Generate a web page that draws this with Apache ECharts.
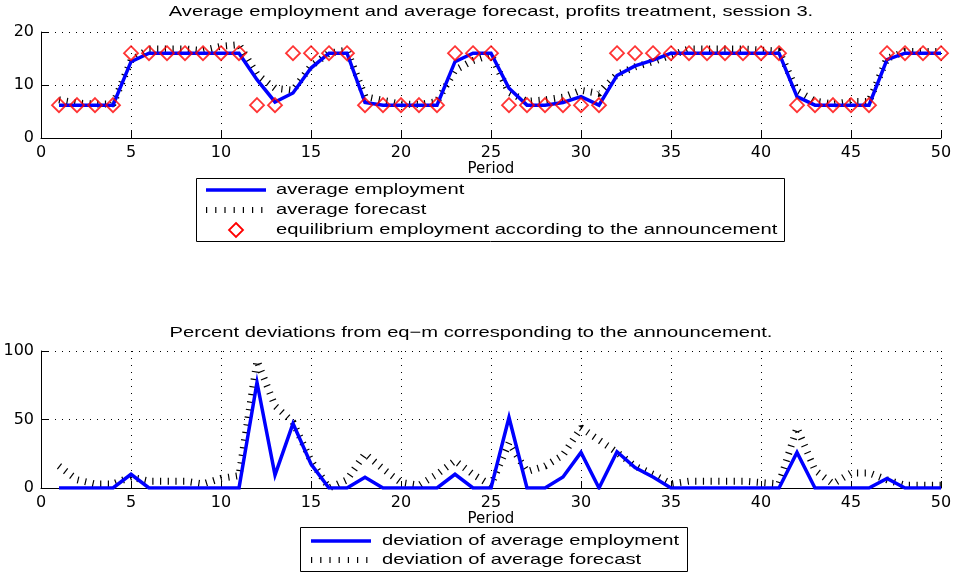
<!DOCTYPE html>
<html>
<head>
<meta charset="utf-8">
<script src="https://cdn.jsdelivr.net/npm/echarts@6/dist/echarts.min.js"></script>
<style>
  html, body { margin: 0; padding: 0; background: #fff; }
  #chart { width: 956px; height: 575px; }
</style>
</head>
<body>
<div id="chart"></div>
<script>
// Session 3, profits treatment: per-period averages over the 50 periods
const periods = [1,2,3,4,5,6,7,8,9,10,11,12,13,14,15,16,17,18,19,20,21,22,23,24,25,26,27,28,29,30,31,32,33,34,35,36,37,38,39,40,41,42,43,44,45,46,47,48,49,50];

const avgEmployment = [6.2,6.2,6.2,6.2,14.4,16,16,16,16,16,16,11.0,6.8,8.5,13.2,16,16,6.7,6.2,6.2,6.2,6.2,14.4,16,16,9.4,6.2,6.2,6.7,7.8,6.2,11.8,13.6,14.7,16,16,16,16,16,16,16,7.8,6.2,6.2,6.2,6.2,14.8,16,16,16];

const avgForecast = [7.2,6.6,6.4,6.4,14.6,16.8,16.8,16.8,16.5,17.3,17.6,12.0,9.4,9.0,13.6,16,16.6,7.8,7.1,6.4,6.3,6.9,12.8,14.6,15.7,8.6,6.9,7.2,7.7,9.0,8.4,12.0,13.4,14.4,15.6,16.8,16.8,16.8,16.8,16.6,16.4,8.9,7.0,6.4,6.9,6.9,15.0,16.3,16.3,16.3];

const eqAnnounced = [6.2,6.2,6.2,6.2,16,16,16,16,16,16,16,6.2,6.2,16,16,16,16,6.2,6.2,6.2,6.2,6.2,16,16,16,6.2,6.2,6.2,6.2,6.2,6.2,16,16,16,16,16,16,16,16,16,16,6.2,6.2,6.2,6.2,6.2,16,16,16,16];

// Percent deviations from the announced equilibrium
const devEmployment = [0,0,0,0,10,0,0,0,0,0,0,77,9.5,47,17.5,0,0,7.8,0,0,0,0,10,0,0,51.5,0,0,8,26,0,26.5,15,8,0,0,0,0,0,0,0,26,0,0,0,0,7,0,0,0];

const devForecast = [16,6,3,3,8,5,5,5,3,7,9,93,60,48,20,0,6,25,14,4,2,10,20,10,2,33,12,16,24,44,35,26,16,10,3,5,5,5,5,4,3,44,13,3,11,11,6,2,2,2];

const xTicks = { min: 0, max: 50, step: 5 };
const topTicks = { min: 0, max: 20, step: 10 };
const bottomTicks = { min: 0, max: 100, step: 50 };

const titleTop = 'Average employment and average forecast, profits treatment, session 3.';
const titleBottom = 'Percent deviations from eq\u2212m corresponding to the announcement.';
const xName = 'Period';
const namesTop = ['average employment', 'average forecast', 'equilibrium employment according to the announcement'];
const namesBottom = ['deviation of average employment', 'deviation of average forecast'];

function pairs(ys) { return periods.map((p, i) => [p, ys[i]]); }

const FONT = 'DejaVu Sans';
const TEXT_FONT = 'Liberation Sans';
const WIDEN = 1.345;   // labels are set in a horizontally widened face
const BLUE = '#0000ff';
const RED = '#ff0000';

const hatch = { color: '#000', width: 7, type: [1.2, 6.5], cap: 'butt' };
const solid = { color: BLUE, width: 3.5, cap: 'butt', join: 'miter' };

function xAxisCfg(gi) {
  return {
    type: 'value', gridIndex: gi, min: xTicks.min, max: xTicks.max, interval: xTicks.step,
    name: xName, nameLocation: 'middle', nameGap: 23,
    nameTextStyle: { fontFamily: FONT, fontSize: 15, color: '#000' },
    axisLine: { lineStyle: { color: '#000', width: 1 } },
    axisTick: { inside: true, length: 7, lineStyle: { color: '#000' } },
    axisLabel: { fontFamily: FONT, fontSize: 16, color: '#000', margin: 7 },
    splitLine: { show: true, lineStyle: { color: '#000', width: 1, type: [1, 6] } }
  };
}
function yAxisCfg(gi, t) {
  return {
    type: 'value', gridIndex: gi, min: t.min, max: t.max, interval: t.step,
    axisLine: { show: true, lineStyle: { color: '#000', width: 1 } },
    axisTick: { show: true, inside: true, length: 7, lineStyle: { color: '#000' } },
    axisLabel: { fontFamily: FONT, fontSize: 16, color: '#000', margin: 7 },
    splitLine: { show: true, lineStyle: { color: '#000', width: 1, type: [1, 6] } }
  };
}

function wideText(x, y, text, align) {
  return { type: 'text', x: x, y: y, scaleX: WIDEN, z: 11,
    style: { text: text, fontFamily: TEXT_FONT, fontSize: 15, fill: '#000', verticalAlign: 'middle', align: align } };
}

// Hand-built legend boxes (swatch + label rows)
function legendBox(x, y, w, h, rows) {
  const els = [{
    type: 'rect', shape: { x: x + 0.5, y: y + 0.5, width: w, height: h },
    style: { fill: '#fff', stroke: '#000', lineWidth: 1 }, z: 10
  }];
  rows.forEach(r => {
    if (r.kind === 'line') {
      els.push({ type: 'line', shape: { x1: r.x0, y1: r.y, x2: r.x1, y2: r.y },
        style: { stroke: BLUE, lineWidth: 3.5 }, z: 11 });
    } else if (r.kind === 'hatch') {
      els.push({ type: 'line', shape: { x1: r.x0, y1: r.y, x2: r.x1, y2: r.y },
        style: { stroke: '#000', lineWidth: 6, lineDash: [1.2, 8] }, z: 11 });
    } else if (r.kind === 'diamond') {
      const c = (r.x0 + r.x1) / 2, s = 7;
      els.push({ type: 'polygon', shape: { points: [[c, r.y - s], [c + s, r.y], [c, r.y + s], [c - s, r.y]] },
        style: { fill: 'none', stroke: RED, lineWidth: 1.8 }, z: 11 });
    }
    els.push(wideText(r.tx, r.y, r.text, 'left'));
  });
  return els;
}

const chart = echarts.init(document.getElementById('chart'), null, { renderer: 'canvas' });

chart.setOption({
  backgroundColor: '#fff',
  animation: false,
  grid: [
    { left: 41, right: 15, top: 32, height: 106 },
    { left: 41, right: 15, top: 351, height: 137 }
  ],
  xAxis: [xAxisCfg(0), xAxisCfg(1)],
  yAxis: [yAxisCfg(0, topTicks), yAxisCfg(1, bottomTicks)],
  series: [
    { name: namesTop[1], type: 'line', xAxisIndex: 0, yAxisIndex: 0, data: pairs(avgForecast),
      symbol: 'none', lineStyle: hatch, z: 2 },
    { name: namesTop[0], type: 'line', xAxisIndex: 0, yAxisIndex: 0, data: pairs(avgEmployment),
      symbol: 'none', lineStyle: solid, z: 3 },
    { name: namesTop[2], type: 'scatter', xAxisIndex: 0, yAxisIndex: 0, data: pairs(eqAnnounced),
      symbol: 'diamond', symbolSize: 14,
      itemStyle: { color: 'rgba(255,255,255,0)', borderColor: RED, borderWidth: 1.8 }, z: 4 },
    { name: namesBottom[1], type: 'line', xAxisIndex: 1, yAxisIndex: 1, data: pairs(devForecast),
      symbol: 'none', lineStyle: hatch, z: 2 },
    { name: namesBottom[0], type: 'line', xAxisIndex: 1, yAxisIndex: 1, data: pairs(devEmployment),
      symbol: 'none', lineStyle: solid, z: 3 }
  ],
  graphic: [].concat(
    [wideText(491, 12, titleTop, 'center'), wideText(471, 333, titleBottom, 'center')],
    legendBox(196, 178, 588, 63, [
      { kind: 'line', x0: 206, x1: 266, y: 190, tx: 276, text: namesTop[0] },
      { kind: 'hatch', x0: 206, x1: 266, y: 210, tx: 276, text: namesTop[1] },
      { kind: 'diamond', x0: 206, x1: 266, y: 230, tx: 276, text: namesTop[2] }
    ]),
    legendBox(300, 527, 387, 44, [
      { kind: 'line', x0: 311, x1: 371, y: 541, tx: 382, text: namesBottom[0] },
      { kind: 'hatch', x0: 311, x1: 371, y: 560, tx: 382, text: namesBottom[1] }
    ])
  )
});
</script>
</body>
</html>
